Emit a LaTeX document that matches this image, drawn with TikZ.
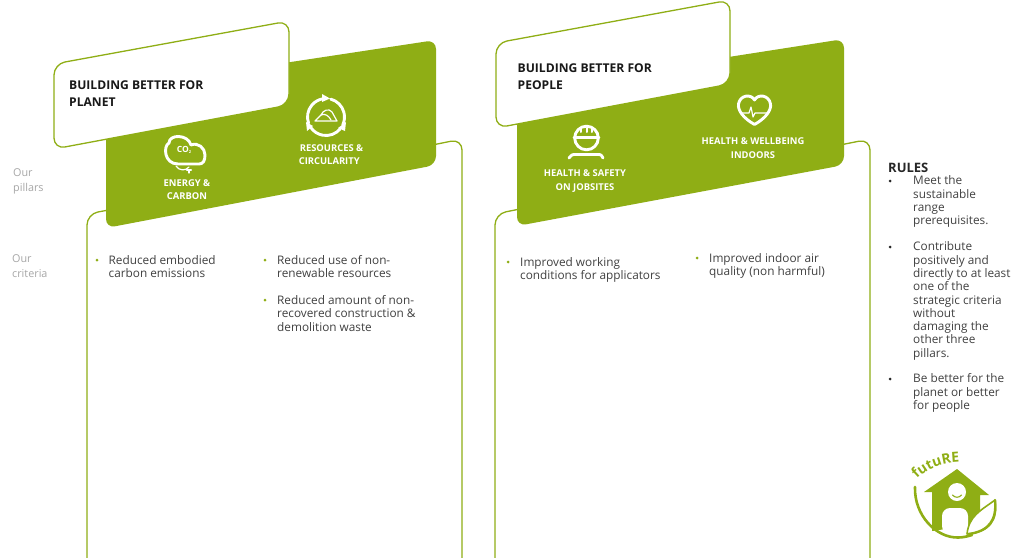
\documentclass[tikz,border=0pt]{standalone}
\usepackage{fontspec}
\usetikzlibrary{decorations.text}
\setmainfont{Open Sans}
\definecolor{leaf}{HTML}{8FAE15}
\definecolor{greytext}{HTML}{A6A6A6}
\definecolor{inktext}{HTML}{404040}
\tikzset{
  x=1pt,y=-1pt,
  card/.style={draw=leaf,line width=1.3pt,fill=white,rounded corners=11pt},
  band/.style={fill=leaf,rounded corners=9pt},
  title/.style={anchor=north west,align=left,inner sep=0pt,font=\fontsize{12.1}{17}\selectfont\bfseries,text=black!90},
  pillar/.style={align=center,inner sep=0pt,text=white,font=\fontsize{9.4}{13.4}\selectfont\bfseries},
  side/.style={anchor=west,align=left,inner sep=0pt,text=greytext,font=\fontsize{10.8}{15}\selectfont},
  crit/.style={anchor=north west,align=left,inner sep=0pt,text=inktext,font=\fontsize{11.8}{13.4}\selectfont},
  rule/.style={anchor=north west,align=left,inner sep=0pt,text=inktext,font=\fontsize{11.8}{13.3}\selectfont},
  dot/.style={fill=leaf,circle,inner sep=0pt,minimum size=3pt},
  blackdot/.style={fill=black!85,circle,inner sep=0pt,minimum size=3pt},
  icon/.style={draw=white,line width=2.9pt,line cap=round,line join=round},
  thinicon/.style={draw=white,line width=1.2pt,line cap=round,line join=round},
}
\begin{document}
\begin{tikzpicture}
\useasboundingbox (0,0) rectangle (1024,557);
% lower outline cards
\path[card] (87,580) -- (87,214) -- (125,207) -- (462,139) -- (462,580);
\path[card] (495,580) -- (495,214) -- (530,207) -- (870,139) -- (870,580);
% green bands
\path[band] (106,90) -- (436,40) -- (436,165) -- (106,228) -- cycle;
\path[band] (517,90) -- (844,39) -- (844,165) -- (517,226) -- cycle;
% white title panels
\path[card] (54,64) -- (289,21) -- (289,105) -- (54,149) -- cycle;
\path[card] (496,43) -- (730,0) -- (730,84) -- (496,128) -- cycle;
% titles
\node[title] (t1) at (69,80.5) {BUILDING BETTER FOR\\PLANET};
\node[title] (t2) at (517.5,64) {BUILDING BETTER FOR\\PEOPLE};
% pillar labels
\node[pillar] (p1) at (187,189.5) {ENERGY \&\\CARBON};
\node[pillar,align=left] (p2) at (331,154.5) {\hspace*{1pt}RESOURCES \&\\CIRCULARITY};
\node[pillar] (p3) at (585,181) {HEALTH \& SAFETY\\ON JOBSITES};
\node[pillar] (p4) at (753,148) {HEALTH \& WELLBEING\\INDOORS};
% side labels
\node[side] (s1) at (13,181) {Our\\pillars};
\node[side] (s2) at (12,266.5) {Our\\criteria};
% criteria
\node[dot] (b1) at (97,260) {};
\node[crit] (c1) at (108.5,255) {Reduced embodied\\carbon emissions};
\node[dot] (b2) at (265,260) {};
\node[crit] (c2) at (277,255) {Reduced use of non-\\renewable resources};
\node[dot] (b3) at (265,300) {};
\node[crit] (c3) at (277,295) {Reduced amount of non-\\recovered construction \&\\demolition waste};
\node[dot] (b4) at (508,262) {};
\node[crit] (c4) at (520,257) {Improved working\\conditions for applicators};
\node[dot] (b5) at (697,258) {};
\node[crit] (c5) at (709,253) {Improved indoor air\\quality (non harmful)};
% rules
\node[anchor=north west,inner sep=0pt,font=\fontsize{13}{15}\selectfont\bfseries,text=black!85] (rt) at (888,162.5) {RULES};
\node[blackdot] (r1) at (890,181) {};
\node[rule] (rr1) at (913,175.7) {Meet the\\sustainable\\range\\prerequisites.};
\node[blackdot] (r2) at (890,247) {};
\node[rule] (rr2) at (913,241.7) {Contribute\\positively and\\directly to at least\\one of the\\strategic criteria\\without\\damaging the\\other three\\pillars.};
\node[blackdot] (r3) at (890,379) {};
\node[rule] (rr3) at (913,373.7) {Be better for the\\planet or better\\for people};
% icon: CO2 cloud
\path[icon] (178,164) .. controls (164,164) and (163,146) .. (169,143) .. controls (169,134) and (188,134) .. (191,145)
  .. controls (198,142) and (205,148) .. (205,155) .. controls (205,161) and (203,164) .. (199,164) -- cycle;
\path[thinicon] (176,166) .. controls (179,171) and (186,171) .. (189,167);
\path[thinicon,line width=2.2pt] (187,170) -- (191,170);
\path[thinicon] (189,170) -- (189,173);
\node[inner sep=0pt,text=white,font=\fontsize{8.5}{9}\selectfont\bfseries] (co) at (184,150) {CO\raisebox{-1.5pt}{\fontsize{4}{4}\selectfont 2}};
% icon: resources
\path[icon] (326,117) ++(-75:18.5) arc[start angle=-75,end angle=25,radius=18.5];
\path[icon] (326,117) ++(40:18.5) arc[start angle=40,end angle=145,radius=18.5];
\path[icon] (326,117) ++(160:18.5) arc[start angle=160,end angle=262,radius=18.5];
\path[fill=white] (322,94) -- (330,98.5) -- (322,102) -- cycle;
\path[fill=white] (346,122) -- (345,131) -- (338,128) -- cycle;
\path[fill=white] (306,122) -- (313,126) -- (307,131) -- cycle;
\path[thinicon] (315,121) -- (321,115) .. controls (323,110) and (329,108) .. (332,112) -- (337,121) -- cycle;
\path[thinicon] (321,115) .. controls (325,113) and (329,116) .. (331,120);
% icon: helmet worker
\path[icon] (586.5,138) circle[radius=11.8];
\path[icon] (574,137.5) -- (599,137.5);
\path[icon,line width=2pt] (586.5,128) -- (586.5,132);
\path[icon,line width=2pt] (581,129) -- (581,132);
\path[icon,line width=2pt] (592,129) -- (592,132);
\path[icon] (569,158) .. controls (572,154.5) and (572,154.5) .. (576,154.5) -- (597,154.5) .. controls (601,154.5) and (601,154.5) .. (603,158);
% icon: heart
\path[icon] (754.5,124.5) .. controls (743,118) and (737.5,110) .. (738.5,104) .. controls (740,95) and (751,93.5) .. (754.5,100)
  .. controls (758,93.5) and (769,95) .. (770.5,104) .. controls (771.5,110) and (766,118) .. (754.5,124.5) -- cycle;
\path[thinicon] (741,113) -- (749,113) -- (751,107) -- (753,117) -- (755,113) -- (768,113);
% logo
\path[fill=leaf] (957,469) -- (989,495) -- (980,495) -- (980,524) -- (932,531) -- (932,492) -- (924,492) -- cycle;
\path[fill=white,rounded corners=8pt] (942,534) -- (942,508) -- (968,508) -- (968,534) -- cycle;
\path[fill=white] (957,492) circle[radius=9];
\path[draw=leaf,line width=1.1pt,line cap=round] (952.5,495) .. controls (955,498) and (959,498) .. (961.5,495);
\path[draw=leaf,line width=2.6pt,line cap=round] (915,487) .. controls (914,515) and (936,538) .. (958,537.5) .. controls (963,537.5) and (967,536.5) .. (972,535);
\path[fill=white,draw=leaf,line width=1.6pt,line join=round] (967,534) .. controls (969,516) and (980,511) .. (995,500) .. controls (998,520) and (990,532) .. (967,534) -- cycle;
\path[draw=leaf,line width=2.4pt,line cap=round] (995,500) .. controls (997,520) and (989,531) .. (969,534);
\path[postaction={decorate},decoration={text along path,text align=center,text color=leaf,text={|\fontsize{14}{14}\selectfont\bfseries|futuRE}}] (916,480) .. controls (925,470) and (941,462) .. (961,462);
\end{tikzpicture}
\end{document}
